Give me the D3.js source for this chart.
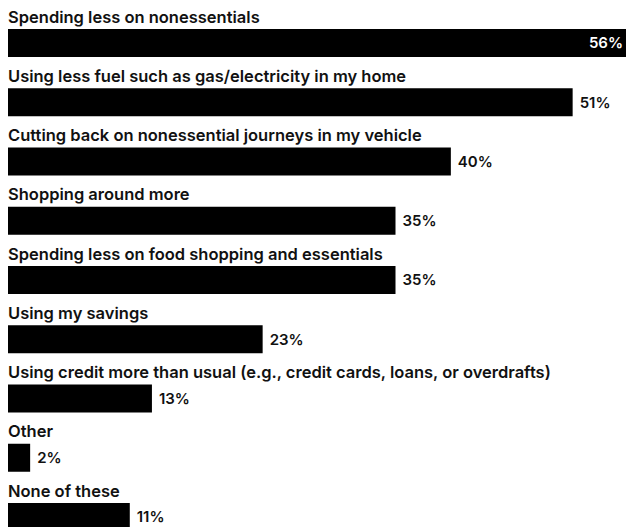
<!DOCTYPE html>
<html>
<head>
<meta charset="utf-8">
<script src="https://cdn.jsdelivr.net/npm/d3@7"></script>
<style>
  body { margin: 0; background: #fff; }
  svg { display: block; font-family: Inter, "Noto Sans", sans-serif; }
</style>
</head>
<body>
<div id="chart"></div>
<script>

var categories = [
    "Spending less on nonessentials",
    "Using less fuel such as gas/electricity in my home",
    "Cutting back on nonessential journeys in my vehicle",
    "Shopping around more",
    "Spending less on food shopping and essentials",
    "Using my savings",
    "Using credit more than usual (e.g., credit cards, loans, or overdrafts)",
    "Other",
    "None of these"
];

var values = [56, 51, 40, 35, 35, 23, 13, 2, 11];

var width = 626,
    height = 527,
    left = 8,
    barHeight = 28,
    barOffset = 29,
    rowStep = 59.25;

var svg = d3.select("#chart").append("svg")
    .attr("width", width)
    .attr("height", height);

// 1% is about 11.08px in the picture
var x = d3.scaleLinear()
    .domain([0, 56])
    .range([0, 620]);

var y = d3.scaleBand()
    .domain(categories)
    .range([0, rowStep * categories.length])
    .paddingInner(0)
    .paddingOuter(0);

var rows = svg.selectAll(".row")
    .data(categories)
    .enter().append("g")
    .attr("class", "row")
    .attr("transform", function (d) {
        return "translate(0," + y(d) + ")";
    });

rows.append("text")
    .attr("class", "label")
    .attr("x", left)
    .attr("y", barOffset - 6.5)
    .style("font-size", "16.5px")
    .style("font-weight", 600)
    .style("fill", "#111")
    .text(function (d) { return d; });

rows.append("rect")
    .attr("class", "bar")
    .attr("x", left)
    .attr("y", barOffset)
    .attr("width", function (d, i) { return x(values[i]); })
    .attr("height", barHeight)
    .style("fill", "#000");

rows.append("text")
    .attr("class", "value")
    .attr("y", barOffset + barHeight / 2)
    .attr("dy", "0.36em")
    .style("font-size", "15px")
    .style("font-weight", 600)
    .each(function (d, i) {
        var end = left + x(values[i]);
        var inside = end + 45 > width;
        d3.select(this)
            .attr("x", inside ? width - 3 : end + 7)
            .attr("text-anchor", inside ? "end" : "start")
            .style("fill", inside ? "#fff" : "#111");
    })
    .text(function (d, i) { return values[i] + "%"; });

</script>
</body>
</html>
